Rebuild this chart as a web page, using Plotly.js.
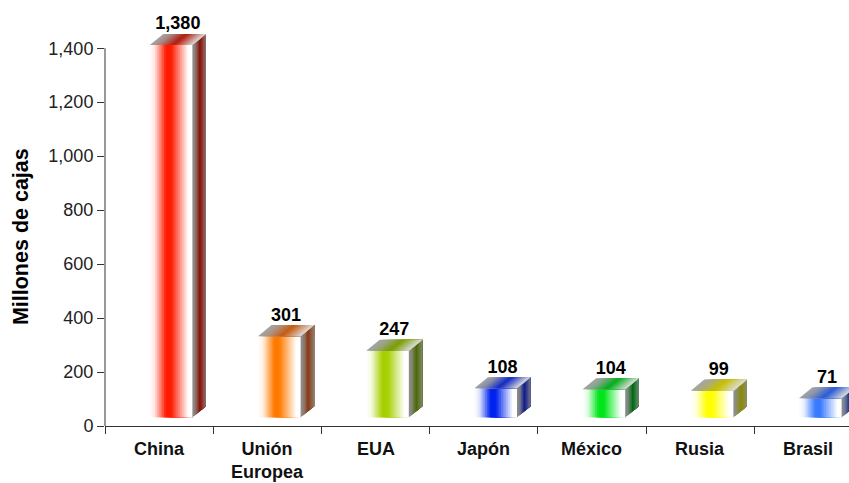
<!DOCTYPE html>
<html>
<head>
<meta charset="utf-8">
<script src="https://cdn.plot.ly/plotly-3.0.1.min.js"></script>
<style>html,body{margin:0;padding:0;background:#fff;}#chart{width:849px;height:483px;}</style>
</head>
<body>
<div id="chart"></div>
<script>
// ---- data ----
const categories = ['China', 'Unión<br>Europea', 'EUA', 'Japón', 'México', 'Rusia', 'Brasil'];
const values = [1380, 301, 247, 108, 104, 99, 71];
const valueLabels = ['1,380', '301', '247', '108', '104', '99', '71'];
const yTickVals = [0, 200, 400, 600, 800, 1000, 1200, 1400];
const frontColors = ['#FF1A00', '#FF7A00', '#A6D000', '#0022EE', '#00E61A', '#FFFF00', '#3A7AFF'];
const sideColors  = ['#8A0F05', '#8A3A10', '#4A6A00', '#101C8A', '#006A10', '#8A8A00', '#1A3A9A'];
const topColors   = ['#B41808', '#C85A10', '#7A9E00', '#1028C8', '#00B018', '#C8C000', '#2A5AD8'];

// ---- geometry (style) ----
const FRONT_L = -0.086, FRONT_W = 0.394;   // category units
const DX = 0.125, DY = 41, BASE = 32;      // depth in category / value units
const Y_TOP = 1460;                         // room above the last tick for the 3D tops
const NF = 24, NS = 10, NT = 16;
const FONT = 'Liberation Sans, Arial, sans-serif';

function hex(c){return [parseInt(c.slice(1,3),16),parseInt(c.slice(3,5),16),parseInt(c.slice(5,7),16)];}
function mix(a,b,t){const A=hex(a),B=hex(b);return 'rgb('+A.map((v,i)=>Math.round(v+(B[i]-v)*t)).join(',')+')';}
function interp(stops,t){
  for(let i=1;i<stops.length;i++){
    if(t<=stops[i][0]){const s0=stops[i-1],s1=stops[i];const f=(t-s0[0])/(s1[0]-s0[0]);return s0[1]+(s1[1]-s0[1])*f;}
  }
  return stops[stops.length-1][1];
}
const frontStops=[[0,0],[0.12,0.12],[0.38,1],[0.5,1],[0.9,0],[1,0]];
function frontColor(i,t){return mix('#FFFFFF',frontColors[i],interp(frontStops,t));}
function sideColor(i,t){
  if(t<0.55) return mix('#8E8E8E',sideColors[i],interp([[0,0],[0.2,0.15],[0.55,1]],t));
  return mix(sideColors[i],'#8E8E8E',interp([[0.55,0],[1,0.8]],t));
}
function topColor(i,t){
  if(t<0.55) return mix('#A4A4A4',topColors[i],interp([[0,0],[0.2,0.2],[0.55,1]],t));
  return mix(topColors[i],'#DADADA',interp([[0.55,0],[1,1]],t));
}

const idx = categories.map((c,i)=>i);
const traces = [];

// front faces: bar strips (each covers to the right edge; later strips overlay)
for(let s=0;s<NF;s++){
  const t=(s+0.5)/NF;
  traces.push({
    type:'bar', x:idx, y:values, base:BASE,
    offset:FRONT_L+s*FRONT_W/NF, width:FRONT_W-s*FRONT_W/NF,
    marker:{color:idx.map(i=>frontColor(i,t)), line:{width:0}},
    cliponaxis:false, hoverinfo:'skip', showlegend:false
  });
}

// side faces and top faces: polygons derived from values
idx.forEach(i=>{
  const v=values[i], L=i+FRONT_L, R=L+FRONT_W, top=v+BASE;
  for(let s=0;s<NS;s++){
    const a=s/NS, t=(s+0.5)/NS;
    traces.push({
      type:'scatter', mode:'lines', fill:'toself',
      x:[R+a*DX, R+DX, R+DX, R+a*DX, R+a*DX],
      y:[BASE+a*DY, BASE+DY, top+DY, top+a*DY, BASE+a*DY],
      line:{width:0}, fillcolor:sideColor(i,t),
      cliponaxis:false, hoverinfo:'skip', showlegend:false
    });
  }
  for(let s=0;s<NT;s++){
    const a=s/NT, t=(s+0.5)/NT;
    traces.push({
      type:'scatter', mode:'lines', fill:'toself',
      x:[L+a*FRONT_W, R, R+DX, L+a*FRONT_W+DX, L+a*FRONT_W],
      y:[top, top, top+DY, top+DY, top],
      line:{width:0}, fillcolor:topColor(i,t),
      cliponaxis:false, hoverinfo:'skip', showlegend:false
    });
  }
});

// value labels
traces.push({
  type:'scatter', mode:'text',
  x:idx.map(i=>i+FRONT_L+FRONT_W/2+DX/2),
  y:values.map(v=>v+BASE+DY),
  text:valueLabels, textposition:'top center',
  textfont:{family:FONT, size:18, color:'#000', weight:'bold'},
  cliponaxis:false, hoverinfo:'skip', showlegend:false
});

const yMax = yTickVals[yTickVals.length-1];
const annotations = categories.map((c,i)=>({
  text:c, xref:'x', yref:'paper', x:i, y:0, xanchor:'center', yanchor:'top', yshift:-11,
  showarrow:false, align:'center',
  font:{family:FONT, size:18, color:'#111', weight:'bold'}
}));
annotations.push({
  text:'Millones de cajas', textangle:-90,
  xref:'paper', yref:'paper', x:0, y:(yMax/2)/Y_TOP, xanchor:'center', yanchor:'middle', xshift:-84,
  showarrow:false,
  font:{family:FONT, size:21.5, color:'#000', weight:'bold'}
});

const layout = {
  width:849, height:483,
  margin:{l:105, r:0, t:32, b:57},
  paper_bgcolor:'#fff', plot_bgcolor:'#fff',
  barmode:'overlay', showlegend:false,
  xaxis:{
    type:'linear', range:[-0.5, 6.376],
    tickvals:[-0.5,0.5,1.5,2.5,3.5,4.5,5.5,6.5], ticktext:['','','','','','','',''],
    ticks:'outside', ticklen:7, tickcolor:'#333', tickwidth:1,
    showline:true, linecolor:'#333', linewidth:1, showgrid:false, zeroline:false, fixedrange:true
  },
  yaxis:{
    range:[0,Y_TOP], tickvals:yTickVals, tickformat:',',
    ticks:'outside', ticklen:7, tickcolor:'#333', tickwidth:1,
    tickfont:{family:FONT, size:18, color:'#222'},
    showline:false, showgrid:false, zeroline:false
  },
  shapes:[{
    type:'line', xref:'paper', yref:'y', x0:0, x1:0, y0:0, y1:yMax,
    line:{color:'#333', width:1}, layer:'above'
  }],
  annotations:annotations
};

Plotly.newPlot('chart', traces, layout, {staticPlot:true, displayModeBar:false});
</script>
</body>
</html>
